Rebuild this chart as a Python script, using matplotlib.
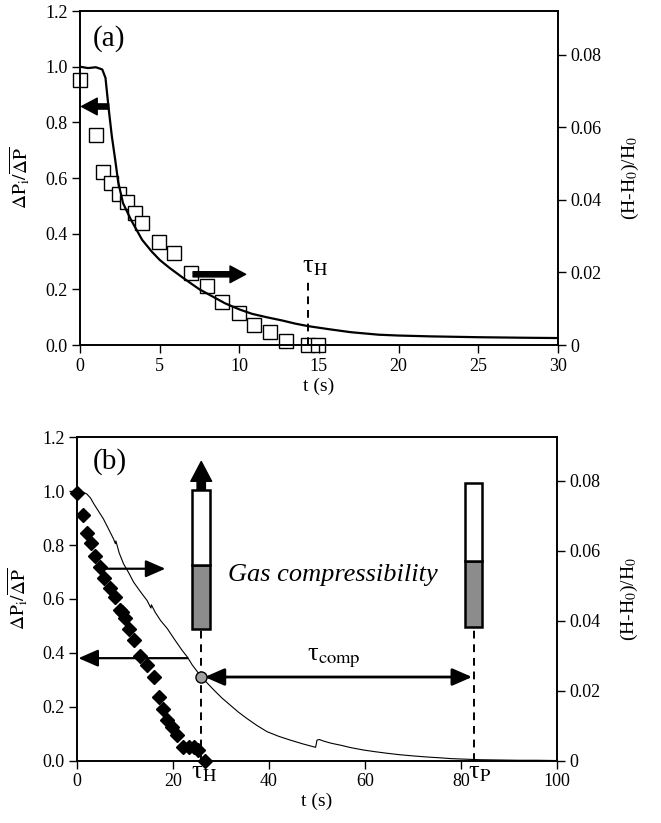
import numpy as np
import matplotlib
matplotlib.use('Agg')
import matplotlib.pyplot as plt
from matplotlib.patches import Rectangle

plt.rcParams['font.family'] = ['Liberation Serif', 'DejaVu Serif']
plt.rcParams['mathtext.fontset'] = 'stix'

# ---------------- data: panel (a) ----------------
a_line_t = [0, 0.5, 1.0, 1.4, 1.6, 1.8, 2.0, 2.2, 2.4, 2.7, 3.2, 3.9, 4.5, 5.0,
            5.6, 6.5, 7.5, 8.3, 9.1, 10.0, 10.8, 11.7, 12.7, 13.5, 14.3, 15.6,
            17.0, 18.75, 20, 22, 25, 28, 30]
a_line_v = [1.0, 0.995, 0.998, 0.99, 0.96, 0.85, 0.75, 0.67, 0.585, 0.51, 0.45,
            0.378, 0.336, 0.306, 0.278, 0.24, 0.2, 0.175, 0.15, 0.128, 0.112,
            0.1, 0.088, 0.077, 0.068, 0.057, 0.046, 0.037, 0.034, 0.031, 0.028,
            0.026, 0.025]
a_sq_t = [0, 1.0, 1.46, 1.94, 2.42, 2.98, 3.46, 3.92, 4.96, 5.9, 6.98, 7.96,
          8.92, 9.96, 10.92, 11.92, 12.92, 14.33, 14.95]
a_sq_v = [0.0731, 0.0579, 0.0478, 0.0446, 0.0416, 0.0393, 0.0363, 0.0337,
          0.0285, 0.0253, 0.0198, 0.0163, 0.0119, 0.0087, 0.0055, 0.0035,
          0.0011, 0.0, 0.0]
a_xticks = [0, 5, 10, 15, 20, 25, 30]
tau_H_a = 14.33

# ---------------- data: panel (b) ----------------
b_line_t = [0, 1, 2, 2.8, 3.5, 4.5, 5.5, 6.5, 7.6, 8.0, 8.1, 8.8, 9.7, 10.8,
            11.8, 13.2, 14.6, 15.4, 15.5, 16.3, 17.4, 18.8, 20.3, 21.9, 23.0,
            24.0, 25.9, 27.0, 28.5, 30.2, 31.9, 33.6, 35.4, 37.5, 39.6, 42,
            44.4, 47, 49.7, 50.0, 50.5, 51.4, 53, 54.9, 57, 59.7, 62, 64.6, 67,
            70.1, 73, 75.7, 78, 81, 84, 88, 92, 96, 100]
b_line_v = [0.995, 0.998, 0.99, 0.975, 0.953, 0.925, 0.897, 0.862, 0.823,
            0.805, 0.815, 0.77, 0.73, 0.696, 0.662, 0.627, 0.594, 0.566, 0.578,
            0.55, 0.52, 0.49, 0.45, 0.409, 0.384, 0.355, 0.31, 0.29, 0.262,
            0.232, 0.206, 0.18, 0.156, 0.13, 0.107, 0.09, 0.076, 0.062, 0.049,
            0.076, 0.078, 0.072, 0.064, 0.057, 0.048, 0.039, 0.033, 0.027,
            0.022, 0.017, 0.013, 0.01, 0.007, 0.005, 0.003, 0.002, 0.001,
            0.001, 0.0]
b_dia_t = [0, 1.25, 2.08, 2.9, 3.8, 4.85, 5.7, 6.8, 8.0, 9.0, 9.4, 10.1, 10.75,
           11.8, 13.2, 14.6, 15.97, 17.0, 18.0, 18.75, 19.8, 20.8, 22.0, 23.3,
           24.3, 25.3, 26.7]
b_dia_v = [0.0765, 0.0702, 0.065, 0.0622, 0.0584, 0.0553, 0.0522, 0.0493,
           0.0466, 0.0431, 0.0425, 0.0407, 0.0377, 0.0344, 0.030, 0.0272,
           0.0238, 0.0181, 0.0148, 0.0115, 0.0096, 0.0072, 0.0038, 0.0038,
           0.0038, 0.0029, 0.0]
b_xticks = [0, 20, 40, 60, 80, 100]
tau_H_b = 25.9
tau_P_b = 82.6

left_ticks = [0.0, 0.2, 0.4, 0.6, 0.8, 1.0, 1.2]
left_labels = ['0.0', '0.2', '0.4', '0.6', '0.8', '1.0', '1.2']
right_ticks = [0, 0.02, 0.04, 0.06, 0.08]
right_labels = ['0', '0.02', '0.04', '0.06', '0.08']

ylabel_left = r'$\Delta\mathrm{P_i}/\overline{\Delta\mathrm{P}}$'
ylabel_right = r'(H-H$_0$)/H$_0$'
xlabel = 't (s)'

FS_TICK = 13
FS_LAB = 14
FS_TAU = 19

fig = plt.figure(figsize=(6.61, 8.23), dpi=100)
axA = fig.add_axes([0.121, 0.5808, 0.723, 0.4058])
axB = fig.add_axes([0.1165, 0.0759, 0.7262, 0.3928])


def style(ax, ax2, xt, xlim, rlim):
    ax.set_xlim(*xlim)
    ax.set_ylim(0, 1.2)
    ax2.set_ylim(*rlim)
    ax.set_xticks(xt)
    ax.set_xticklabels([str(v) for v in xt])
    ax.set_yticks(left_ticks)
    ax.set_yticklabels(left_labels)
    ax2.set_yticks(right_ticks)
    ax2.set_yticklabels(right_labels)
    for a in (ax, ax2):
        a.tick_params(direction='out', length=6, width=1.0, labelsize=FS_TICK,
                      pad=3)
        for s in a.spines.values():
            s.set_linewidth(1.2)
    ax.set_ylabel(ylabel_left, fontsize=FS_LAB, labelpad=9)
    ax2.set_ylabel(ylabel_right, fontsize=FS_LAB, labelpad=13)
    ax.set_xlabel(xlabel, fontsize=FS_LAB, labelpad=2)
    ax.set_zorder(ax2.get_zorder() + 1)
    ax.patch.set_visible(False)


def tau(sub):
    return 'τ' + r'$_{\mathrm{' + sub + '}}$'


# ---------------- panel (a) ----------------
axA2 = axA.twinx()
style(axA, axA2, a_xticks, (0, 30), (0, 0.0921))
axA.plot(a_line_t, a_line_v, color='black', lw=1.6, zorder=2)
axA2.plot(a_sq_t, a_sq_v, 's', ms=10.5, mfc='white', mec='black', mew=1.0,
          clip_on=False)

thick = dict(arrowstyle='simple,head_length=0.75,head_width=0.8,tail_width=0.25',
             color='black', mutation_scale=15, shrinkA=0, shrinkB=0)
axA.annotate('', xy=(0.1, 0.857), xytext=(1.8, 0.857), arrowprops=thick)
axA.annotate('', xy=(10.4, 0.254), xytext=(7.1, 0.254), arrowprops=thick)
axA.plot([tau_H_a, tau_H_a], [0, 0.245], color='black', lw=1.4,
         dashes=(4, 3))
axA.text(tau_H_a + 0.4, 0.24, tau('H'), fontsize=FS_TAU,
         ha='center', va='bottom')
axA.text(0.8, 1.10, '(a)', fontsize=21, ha='left', va='center')

# ---------------- panel (b) ----------------
axB2 = axB.twinx()
style(axB, axB2, b_xticks, (0, 100), (0, 0.0924))
axB.plot(b_line_t, b_line_v, color='black', lw=0.8, zorder=2)
axB2.plot(b_dia_t, b_dia_v, 'D', ms=7.5, mfc='black', mec='black',
          clip_on=False)

thin = dict(arrowstyle='-|>,head_length=0.8,head_width=0.35', color='black',
            lw=1.6, mutation_scale=15, shrinkA=0, shrinkB=0)
axB.annotate('', xy=(18.4, 0.712), xytext=(5.5, 0.712), arrowprops=thin)
axB.annotate('', xy=(0.3, 0.38), xytext=(23.0, 0.38), arrowprops=thin)
dbl = dict(arrowstyle='<|-|>,head_length=0.8,head_width=0.35', color='black',
           lw=2.0, mutation_scale=15, shrinkA=0, shrinkB=0)
circ_v = float(np.interp(tau_H_b, b_line_t, b_line_v))
axB.annotate('', xy=(82.3, circ_v), xytext=(26.6, circ_v), arrowprops=dbl)
axB.plot([tau_H_b], [circ_v], 'o', ms=8, mfc='#a0a0a0', mec='black',
         mew=1.0, zorder=5)

# tubes
gray = '#8c8c8c'
for (x0, x1, yb, ym, yt) in [(23.96, 27.8, 0.49, 0.724, 1.004),
                             (80.9, 84.4, 0.496, 0.74, 1.029)]:
    axB.add_patch(Rectangle((x0, yb), x1 - x0, ym - yb, fc=gray, ec='black',
                            lw=1.8, zorder=4))
    axB.add_patch(Rectangle((x0, ym), x1 - x0, yt - ym, fc='white', ec='black',
                            lw=1.8, zorder=4))
up = dict(arrowstyle='simple,head_length=0.95,head_width=1.0,tail_width=0.4',
          color='black', mutation_scale=15, shrinkA=0, shrinkB=0)
axB.annotate('', xy=(25.88, 1.11), xytext=(25.88, 1.004), arrowprops=up)

axB.plot([tau_H_b, tau_H_b], [0, 0.49], color='black', lw=1.4, dashes=(4, 3))
axB.plot([tau_P_b, tau_P_b], [0, 0.496], color='black', lw=1.4, dashes=(4, 3))

axB.text(26.5, -0.005, tau('H'), fontsize=FS_TAU, ha='center', va='top')
axB.text(83.8, -0.005, tau('P'), fontsize=FS_TAU, ha='center', va='top')
axB.text(53.5, 0.335, tau('comp'), fontsize=FS_TAU, ha='center',
         va='bottom')
axB.text(31.5, 0.69, 'Gas compressibility', fontsize=19, style='italic',
         ha='left', va='center')
axB.text(3.2, 1.11, '(b)', fontsize=21, ha='left', va='center')

fig.savefig('out.png', dpi=100)
